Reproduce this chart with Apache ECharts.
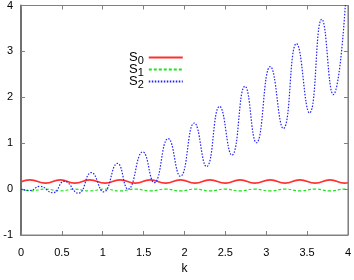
<!DOCTYPE html>
<html>
<head>
<meta charset="utf-8">
<script src="https://cdn.jsdelivr.net/npm/echarts@6/dist/echarts.min.js"></script>
<style>html,body{margin:0;padding:0;background:#fff}#c{width:354px;height:280px}</style>
</head>
<body>
<div id="c"></div>
<script>
var seriesNames = ['S0', 'S1', 'S2'];
var xTicks = ['0', '0.5', '1', '1.5', '2', '2.5', '3', '3.5', '4'];
var yTicks = ['-1', '0', '1', '2', '3', '4'];

// S0 (red): extrema
var s0K = [0, 0.11, 0.30, 0.48, 0.66, 0.84, 1.03, 1.21, 1.40, 1.58, 1.77, 1.95, 2.13, 2.31, 2.50, 2.68, 2.86, 3.05, 3.23, 3.41, 3.60, 3.78, 3.96, 4.0];
var s0V = [0.16, 0.20, 0.13, 0.20, 0.13, 0.20, 0.13, 0.20, 0.13, 0.20, 0.13, 0.20, 0.13, 0.20, 0.13, 0.20, 0.13, 0.20, 0.13, 0.20, 0.13, 0.20, 0.13, 0.14];
// S1 (green)
var s1K = [0, 0.11, 0.30, 0.48, 0.66, 0.84, 1.03, 1.21, 1.40, 1.58, 1.77, 1.95, 2.13, 2.31, 2.50, 2.68, 2.86, 3.05, 3.23, 3.41, 3.60, 3.78, 3.96, 4.0];
var s1V = [0.0, -0.04, 0.0, -0.04, 0.0, -0.04, 0.0, -0.04, 0.0, -0.04, 0.0, -0.04, 0.0, -0.04, 0.0, -0.04, 0.0, -0.04, 0.0, -0.04, 0.0, -0.04, 0.0, -0.01];
// S2 (blue)
var s2K = [0, 0.11, 0.23, 0.39, 0.53, 0.70, 0.86, 1.01, 1.18, 1.31, 1.49, 1.63, 1.80, 1.95, 2.12, 2.27, 2.43, 2.58, 2.74, 2.88, 3.05, 3.21, 3.37, 3.53, 3.68, 3.82, 3.97];
var s2V = [0, -0.03, 0.06, -0.08, 0.17, -0.09, 0.36, -0.06, 0.56, 0.0, 0.81, 0.14, 1.10, 0.28, 1.44, 0.49, 1.80, 0.74, 2.24, 1.01, 2.67, 1.32, 3.17, 1.66, 3.70, 2.06, 4.05];

function pairs(k, v) { return k.map(function (x, i) { return [x, v[i]]; }); }

var chart = echarts.init(document.getElementById('c'), null, { renderer: 'canvas' });
var font = 'Liberation Sans, Arial, sans-serif';
var frame = '#808080';
var lab = { color: '#000', fontSize: 11, fontFamily: font };

chart.setOption({
  animation: false,
  backgroundColor: '#fff',
  grid: { left: 21, right: 6, top: 5, bottom: 45, show: true, borderColor: frame, borderWidth: 1 },
  legend: {
    orient: 'vertical', left: 124, top: 44, align: 'right',
    itemWidth: 34, itemHeight: 8, itemGap: -5,
    data: seriesNames,
    itemStyle: { opacity: 0 },
    formatter: function (n) { return '{s|S}{b|' + n.slice(1) + '}'; },
    textStyle: {
      fontFamily: font, color: '#000',
      rich: {
        s: { fontSize: 13, fontFamily: font, color: '#000', lineHeight: 13 },
        b: { fontSize: 11, fontFamily: font, color: '#000', padding: [6, 0, 0, 0], lineHeight: 13 }
      }
    }
  },
  xAxis: [{
    type: 'value', min: 0, max: 4, interval: 0.5, position: 'bottom',
    axisLine: { show: true, onZero: false, lineStyle: { color: frame, width: 1 } },
    axisTick: { show: true, inside: true, length: 4, lineStyle: { color: frame } },
    axisLabel: Object.assign({ margin: 12, formatter: function (v) { return xTicks[Math.round(v * 2)]; } }, lab),
    splitLine: { show: false },
    name: 'k', nameLocation: 'middle', nameGap: 25,
    nameTextStyle: { color: '#000', fontSize: 12, fontFamily: font }
  }, {
    type: 'value', min: 0, max: 4, interval: 0.5, position: 'top',
    axisLine: { show: true, onZero: false, lineStyle: { color: frame, width: 1 } },
    axisTick: { show: true, inside: true, length: 4, lineStyle: { color: frame } },
    axisLabel: { show: false }, splitLine: { show: false }
  }],
  yAxis: [{
    type: 'value', min: -1, max: 4, interval: 1, position: 'left',
    axisLine: { show: true, onZero: false, lineStyle: { color: '#707070', width: 2 } },
    axisTick: { show: true, inside: true, length: 4, lineStyle: { color: frame } },
    axisLabel: Object.assign({ margin: 8, formatter: function (v) { return yTicks[Math.round(v) + 1]; } }, lab),
    splitLine: { show: false }
  }, {
    type: 'value', min: -1, max: 4, interval: 1, position: 'right',
    axisLine: { show: true, onZero: false, lineStyle: { color: frame, width: 1 } },
    axisTick: { show: true, inside: true, length: 4, lineStyle: { color: frame } },
    axisLabel: { show: false }, splitLine: { show: false }
  }],
  series: [{
    name: 'S0', type: 'line', data: pairs(s0K, s0V), smooth: 0.5, showSymbol: false, symbol: 'none',
    lineStyle: { color: '#ff3030', width: 1.6 }, itemStyle: { color: '#ff3030' }, z: 3
  }, {
    name: 'S1', type: 'line', data: pairs(s1K, s1V), smooth: 0.5, showSymbol: false, symbol: 'none',
    lineStyle: { color: '#20e020', width: 1.2, type: [3, 2] }, itemStyle: { color: '#20e020' }, z: 2
  }, {
    name: 'S2', type: 'line', data: pairs(s2K, s2V), smooth: 0.5, showSymbol: false, symbol: 'none',
    lineStyle: { color: '#2020ff', width: 1.2, type: [1.5, 1.5] }, itemStyle: { color: '#2020ff' }, z: 4
  }]
});
</script>
</body>
</html>
